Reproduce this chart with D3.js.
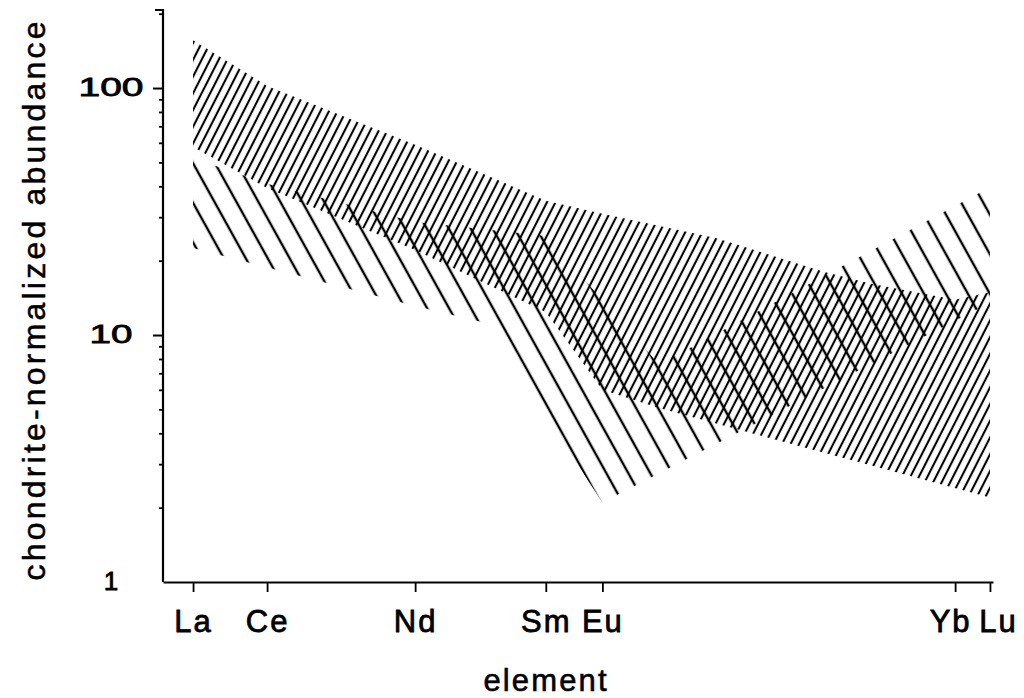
<!DOCTYPE html>
<html lang="en">
<head>
<meta charset="utf-8">
<title>Chondrite-normalized REE abundance</title>
<script src="https://cdnjs.cloudflare.com/ajax/libs/d3/7.8.5/d3.min.js"></script>
<style>
  body { margin: 0; background: #fff; }
  text { font-family: "Liberation Sans", Arial, sans-serif; fill: #000; }
</style>
</head>
<body>
<script>
// rare earth elements; x position is the trivalent ionic radius (angstrom)
var elements = ["La","Ce","Pr","Nd","Pm","Sm","Eu","Gd","Tb","Dy","Ho","Er","Tm","Yb","Lu"];
var ionicRadius = [1.160,1.143,1.126,1.109,1.093,1.079,1.066,1.053,1.040,1.027,1.015,1.004,0.994,0.985,0.977];
var tickElements = ["La","Ce","Nd","Sm","Eu","Yb","Lu"];
var yTicks = [1, 10, 100];
var yMinorTicks = [2,3,4,5,6,7,8,9,20,30,40,50,60,70,80,90,200];

// field 1, fine "/" hatching
var fieldAUpper = [["La",156],["Ce",102],["Nd",59],["Sm",35],["Eu",31],["Tb",24.7],["Ho",18],["Er",16.1],["Yb",13.9],["Lu",14.9]];
var fieldALower = [["La",57.7],["Ce",39.4],["Nd",22.1],["Pm",16.2],["Sm",12.4],["Eu",6.0],["Gd",5.06],["Lu",2.2]];
// field 2, coarse "\" hatching
var fieldBUpper = [["La",52],["Ce",41],["Nd",28.7],["Sm",25.2],["Gd",7.6],["Lu",39.7]];
var fieldBLower = [["La",22.5],["Nd",13.1],["Pm",11.2],["Eu",2.1],["Lu",13.5]];

var margin = {top:10, right:31, bottom:116, left:163};
var w = 1024 - margin.left - margin.right;
var h = 698 - margin.top - margin.bottom;

function radius(el) { return ionicRadius[elements.indexOf(el)]; }

var x = d3.scaleLinear().domain([1.1669, 0.9763]).range([0, w]);
var y = d3.scaleLog().domain([1, 207]).range([h, 0]);

var svg = d3.select("body")
    .append("svg")
    .attr("width", w + margin.left + margin.right)
    .attr("height", h + margin.top + margin.bottom)
  .append("g")
    .attr("transform", "translate(" + margin.left + "," + margin.top + ")");

// hatch patterns
var defs = svg.append("defs");
function hatch(id, gap, angle, width) {
  defs.append("pattern")
      .attr("id", id)
      .attr("patternUnits", "userSpaceOnUse")
      .attr("width", gap)
      .attr("height", 20)
      .attr("patternTransform", "rotate(" + angle + ")")
    .append("line")
      .attr("x1", gap / 2).attr("x2", gap / 2)
      .attr("y1", -1).attr("y2", 21)
      .attr("stroke", "#000")
      .attr("stroke-width", width);
}
hatch("hatchA", 7.6, 27, 2.1);
hatch("hatchB", 19.2, -29, 2.4);

var outline = d3.line()
    .x(function(d) { return x(radius(d[0])); })
    .y(function(d) { return y(d[1]); });

function fieldPath(upper, lower) {
  return outline(upper.concat(lower.slice().reverse())) + "Z";
}

svg.append("path")
    .attr("d", fieldPath(fieldAUpper, fieldALower))
    .attr("fill", "url(#hatchA)");

svg.append("path")
    .attr("d", fieldPath(fieldBUpper, fieldBLower))
    .attr("fill", "url(#hatchB)");

// x axis
var xAxis = d3.axisBottom(x)
    .tickValues(tickElements.map(radius))
    .tickFormat(function(d) { return elements[ionicRadius.indexOf(d)]; })
    .tickSize(10)
    .tickSizeOuter(0);

var labelShift = {Yb: -5, Lu: 8};

var gx = svg.append("g")
    .attr("transform", "translate(0," + h + ")")
    .call(xAxis)
    .attr("font-size", 31)
    .attr("font-family", "'Liberation Sans', Arial, sans-serif");
gx.select(".domain").attr("stroke-width", 2.2);
gx.selectAll(".tick line").attr("stroke-width", 1.8);
gx.selectAll(".tick text")
    .attr("y", 28)
    .attr("letter-spacing", 2)
    .attr("dx", function(d) { return labelShift[elements[ionicRadius.indexOf(d)]] || 0; })
    .attr("stroke", "#000")
    .attr("stroke-width", 0.8);

// y axis, minor ticks
var gyMinor = svg.append("g")
    .call(d3.axisLeft(y).tickValues(yMinorTicks).tickSize(4).tickFormat(""));
gyMinor.select(".domain").remove();
gyMinor.selectAll(".tick line").attr("stroke-width", 1.8);

// y axis, major ticks
var gy = svg.append("g")
    .call(d3.axisLeft(y).tickValues(yTicks).tickSize(10).tickFormat(d3.format("d")))
    .attr("font-size", 26)
    .attr("font-family", "'Liberation Sans', Arial, sans-serif");
gy.select(".domain").remove();
gy.selectAll(".tick line")
    .attr("x2", function(d) { return d === 1 ? 0 : -10; })
    .attr("stroke-width", 2);
gy.selectAll(".tick text")
    .attr("x", -52)
    .attr("dy", "0.27em")
    .attr("text-anchor", "middle")
    .attr("textLength", function(d) { var n = String(d).length; return n > 1 ? 22 * n - 1 : null; })
    .attr("lengthAdjust", "spacingAndGlyphs")
    .attr("stroke", "#000")
    .attr("stroke-width", 0.8);

svg.append("path")
    .attr("d", "M-8," + y.range()[1] + "H0V" + y.range()[0])
    .attr("fill", "none")
    .attr("stroke", "#000")
    .attr("stroke-width", 2.2);

// axis titles
svg.append("text")
    .attr("x", 382)
    .attr("y", 681)
    .attr("text-anchor", "middle")
    .attr("font-size", 31)
    .attr("textLength", 123)
    .attr("lengthAdjust", "spacing")
    .attr("stroke", "#000")
    .attr("stroke-width", 0.6)
    .text("element");

svg.append("text")
    .attr("transform", "translate(-118," + (h / 2 + 5) + ") rotate(-90)")
    .attr("text-anchor", "middle")
    .attr("font-size", 32)
    .attr("textLength", 559)
    .attr("lengthAdjust", "spacing")
    .attr("stroke", "#000")
    .attr("stroke-width", 0.5)
    .text("chondrite-normalized abundance");
</script>
</body>
</html>
